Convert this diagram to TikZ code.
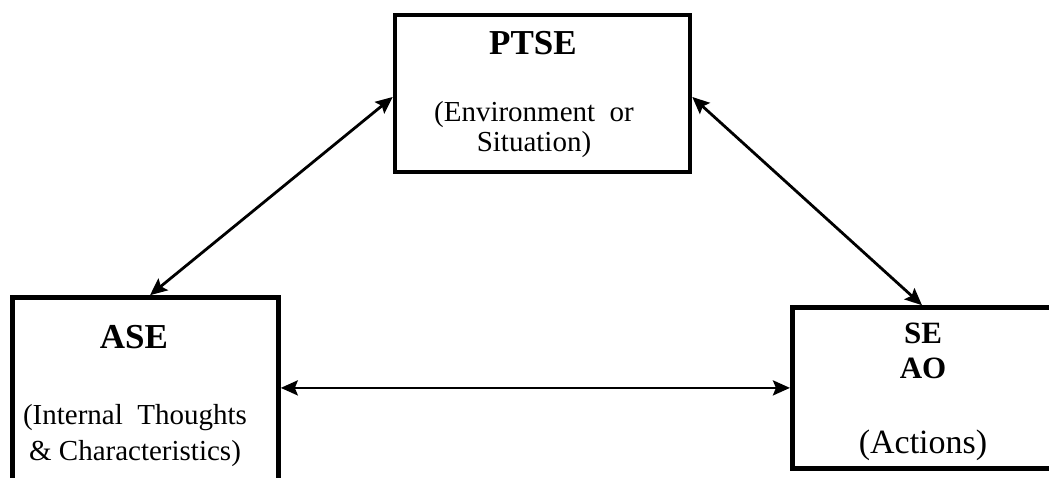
\documentclass[tikz,border=0pt]{standalone}
\usepackage{fontspec}
\setmainfont{Liberation Serif}
\usetikzlibrary{arrows.meta}

\begin{document}
\begin{tikzpicture}[x=1pt, y=1pt, every node/.style={inner sep=0pt, anchor=base}]
        \definecolor{edge}{RGB}{0,0,0}
        \tikzset{
          frame/.style={draw=edge, line width=4.6pt, rectangle, anchor=center},
          link/.style={draw=edge, line width=2.8pt, >={Stealth[length=17pt, width=15pt, inset=3pt]}, <->},
          bigtitle/.style={font=\fontsize{35}{40}\selectfont\bfseries},
          midtitle/.style={font=\fontsize{31}{36}\selectfont\bfseries},
          body/.style={font=\fontsize{29}{34}\selectfont},
          actbody/.style={font=\fontsize{34}{40}\selectfont}
        }
        \useasboundingbox (0,0) rectangle (1049,477);
        \clip (0,0) rectangle (1049,477);
        \node[frame, minimum width=295pt, minimum height=157pt] (ptse) at (542.5,383.6) {};
        \node[frame, minimum width=266pt, minimum height=212.5pt] (ase) at (145.5,73.25) {};
        \node[frame, minimum width=267.5pt, minimum height=160.8pt] (se) at (926,89.1) {};
        \node[bigtitle] (ptsetitle) at (533,422) {PTSE};
        \node[body] (ptseline1) at (534,355) {(Environment\ \ or};
        \node[body] (ptseline2) at (534,325) {Situation)};
        \node[bigtitle] (asetitle) at (134,129) {ASE};
        \node[body] (aseline1) at (135,53) {(Internal\ \ Thoughts};
        \node[body] (aseline2) at (135,17) {\& Characteristics)};
        \node[midtitle] (setitle) at (923,134) {SE};
        \node[midtitle] (aotitle) at (923,99) {AO};
        \node[actbody] (seline) at (923,24) {(Actions)};
        \draw[link] ([xshift=4.5pt]ase.north) -- ([yshift=-3.6pt]ptse.west);
        \draw[link] ([yshift=-3.6pt]ptse.east) -- ([xshift=-4pt]se.north);
        \draw[link] (ase.east |- se.west) -- (se.west);
      \end{tikzpicture}
\end{document}
